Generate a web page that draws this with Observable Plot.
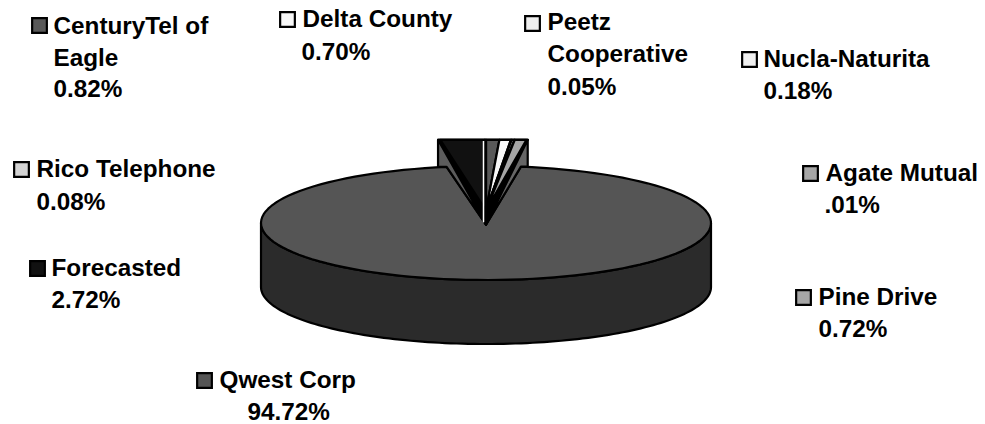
<!DOCTYPE html>
<html><head><meta charset="utf-8">
<style>html,body{margin:0;padding:0;background:#fff}svg{display:block}</style>
<script src="https://cdn.jsdelivr.net/npm/d3@7"></script>
<script src="https://cdn.jsdelivr.net/npm/@observablehq/plot@0.6"></script>
</head><body><div id="chart"></div>
<script>
// Slices, clockwise from 12 o'clock
const providers = ["CenturyTel of Eagle","Delta County","Peetz Cooperative","Nucla-Naturita","Agate Mutual","Pine Drive","Qwest Corp","Forecasted","Rico Telephone"];
const shares = [0.82,0.70,0.05,0.18,0.01,0.72,94.72,2.72,0.08];
const shareLabels = ["0.82%","0.70%","0.05%","0.18%",".01%","0.72%","94.72%","2.72%","0.08%"];
const nameLines = [["CenturyTel of","Eagle"],["Delta County"],["Peetz","Cooperative"],["Nucla-Naturita"],["Agate Mutual"],["Pine Drive"],["Qwest Corp"],["Forecasted"],["Rico Telephone"]];
const sliceColors = ["#595959","#f8f8f8","#eeeeee","#f0f0f0","#a6a6a6","#a6a6a6","#555555","#111111","#d4d4d4"];

// Layout of the drawing (pixels)
const W = 985, H = 424, CX = 485.5, CY = 222.5, RX = 225, RY = 57;
const DEPTH = 64 / RY, LIFT = 1.46, FLARE = 1.16, APEX_LIFT = 0.22;
// Legend placement: swatch centre, name x, value x, first line y, value y
const legendPlacement = [
  [39,25,53,53,26,89],[287,19,302,301,19,52],[532,23,547,547,22,87],
  [749,59,763,763,59,91],[810,173,825,824,173,205],[803,297,818,818,297,329],
  [204,380,219,247,380,412],[37,268,51,51,268,300],[21,169,36,36,169,202]
];
const LINE_STEP = 32;

const total = d3.sum(shares);
const arcs = [];
let acc = 0;
shares.forEach((s,i)=>{ const a0 = acc/total*2*Math.PI; acc += s; arcs.push({i,a0,a1:acc/total*2*Math.PI}); });

const rim = (a, dy=0) => ({x:Math.sin(a), y:-Math.cos(a) + dy});
const arcPts = (a0,a1,dy=0) => d3.range(0,121).map(t => rim(a0+(a1-a0)*t/120,dy));
const q = arcs[6];
const apex = {x:0,y:0.03};

// Qwest side wall (only the front half shows)
const wall = [...arcPts(Math.PI/2,3*Math.PI/2), ...arcPts(3*Math.PI/2,Math.PI/2,DEPTH)];
// Qwest top face
const topFace = [apex, ...arcPts(q.a0,q.a1)];
// Inner walls of the notch, rising behind the pie
const raised = a => ({x:FLARE*Math.sin(a), y:-LIFT});
const cornerR = {x:raised(q.a0).x*1.03,y:-LIFT}, cornerL = {x:raised(q.a1).x*1.05,y:-LIFT};
const wallR = [apex, rim(q.a0), {x:cornerR.x,y:rim(q.a0).y}, cornerR];
const wallL = [apex, rim(q.a1), {x:cornerL.x,y:rim(q.a1).y}, cornerL];
const fanApex = {x:0,y:-APEX_LIFT};
const fan = d => [fanApex, raised(d.a0), raised(d.a1)];
const smallSlices = arcs.filter(d => d.i !== 6);
const notchBack = [apex, cornerR, cornerL];
const notchTop = [cornerR, raised(0), cornerL];

const poly = (pts, fill, strokeWidth=2.2) => Plot.line(pts,{x:"x",y:"y",fill,stroke:"#000",strokeWidth,curve:"linear-closed",strokeLinejoin:"round"});

const legendMarks = providers.flatMap((name,i)=>{
  const [sx,sy,nx,vx,ny,vy] = legendPlacement[i];
  const base = {frameAnchor:"top-left",textAnchor:"start",lineAnchor:"middle",fontFamily:"'Liberation Sans',Arial,sans-serif",fontWeight:"bold",fontSize:24.3,fill:"#000"};
  return [
    Plot.dot([name],{frameAnchor:"top-left",dx:sx,dy:sy,symbol:"square",r:8.3,fill:sliceColors[i],stroke:"#000",strokeWidth:2.2}),
    ...nameLines[i].map((ln,j)=>Plot.text([ln],{...base,text:d=>d,dx:nx,dy:ny+j*LINE_STEP})),
    Plot.text([shareLabels[i]],{...base,text:d=>d,dx:vx,dy:vy})
  ];
});

const plot = Plot.plot({
  width:W,height:H,margin:0,
  style:{background:"#fff",overflow:"visible"},
  x:{axis:null,domain:[-CX/RX,(W-CX)/RX],range:[0,W]},
  y:{axis:null,domain:[-CY/RY,(H-CY)/RY],range:[0,H]},
  marks:[
    poly(wall,"#2b2b2b"),
    poly(topFace,"#555555"),
    poly(notchBack,"#000000"),
    poly(wallL,"#5c5c5c"),
    poly(wallR,"#666666"),
    ...smallSlices.map(d=>poly(fan(d),sliceColors[d.i],2.2)),
    Plot.line([raised(0),{x:0,y:-0.02}],{x:"x",y:"y",stroke:"#fff",strokeWidth:1.5,dx:-2.5}),
    Plot.line(notchTop,{x:"x",y:"y",stroke:"#000",strokeWidth:2.2}),
    ...legendMarks
  ]
});
document.getElementById("chart").appendChild(plot);
</script></body></html>
